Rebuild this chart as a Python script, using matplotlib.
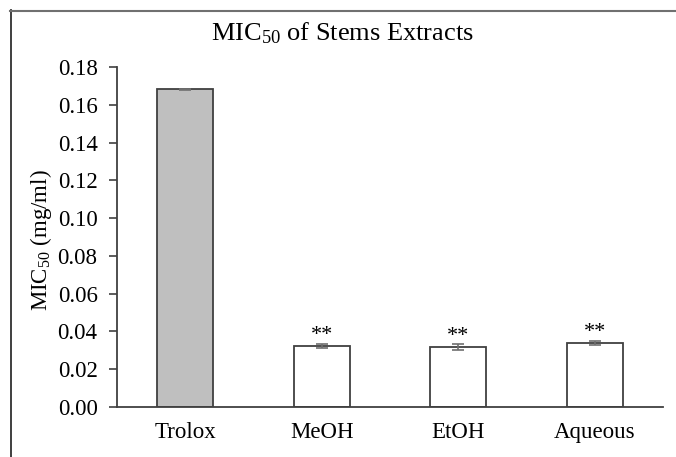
import matplotlib
matplotlib.use("Agg")
import matplotlib.pyplot as plt
from matplotlib.lines import Line2D

categories = ["Trolox", "MeOH", "EtOH", "Aqueous"]
values = [0.1683, 0.0325, 0.0319, 0.0340]
errors = [0.0003, 0.0010, 0.0017, 0.0010]
colors = ["#bfbfbf", "white", "white", "white"]
markers = ["", "**", "**", "**"]
yticks = [0.00, 0.02, 0.04, 0.06, 0.08, 0.10, 0.12, 0.14, 0.16, 0.18]

plt.rcParams['font.family'] = ['Liberation Serif', 'DejaVu Serif']
plt.rcParams['mathtext.fontset'] = 'custom'
plt.rcParams['mathtext.rm'] = 'Liberation Serif'
plt.rcParams['mathtext.it'] = 'Liberation Serif:italic'
plt.rcParams['mathtext.bf'] = 'Liberation Serif:bold'

W, H = 676, 457
fig = plt.figure(figsize=(W/100, H/100), dpi=100)
ax = fig.add_axes([117/W, 1-407/H, (663-117)/W, (407-67)/H])

x = range(len(categories))
ax.bar(x, values, width=0.41, color=colors, edgecolor="#404040", linewidth=1.3, zorder=2)
ax.errorbar(x, values, yerr=errors, fmt='none', ecolor="#707070", elinewidth=1.2, capsize=4, capthick=1.2, zorder=3)
for xi, v, e, m in zip(x, values, errors, markers):
    if m:
        ax.text(xi, v + 0.0055, m, ha='center', va='center', fontsize=16)

ax.set_xlim(-0.5, len(categories)-0.5)
ax.set_ylim(0, 0.18)
ax.set_yticks(yticks)
ax.set_yticklabels([f"{t:.2f}" for t in yticks], fontsize=16.5)
ax.set_xticks(list(x))
ax.set_xticklabels(categories, fontsize=16.5, va='baseline')
ax.tick_params(axis='x', length=0, pad=22)
ax.tick_params(axis='y', length=6, width=1.2, color="#404040", pad=8)
for s in ['top', 'right']:
    ax.spines[s].set_visible(False)
for s in ['left', 'bottom']:
    ax.spines[s].set_color("#404040")
    ax.spines[s].set_linewidth(1.3)

ax.set_ylabel(r"MIC$_{50}$ (mg/ml)", fontsize=16.5)
ax.yaxis.set_label_coords((54 - 117) / (663 - 117), 0.49)
fig.text(342/W, 1-33/H, r"MIC$_{50}$ of Stems Extracts", ha='center', va='center', fontsize=19)

# outer frame (left and top edges)
fig.add_artist(Line2D([10.5/W, 10.5/W], [0, 1-10/H], color="#303030", lw=1.3, transform=fig.transFigure))
fig.add_artist(Line2D([10/W, 1], [1-10.5/H, 1-10.5/H], color="#707070", lw=1.5, transform=fig.transFigure))

fig.savefig("out.png", dpi=100)
